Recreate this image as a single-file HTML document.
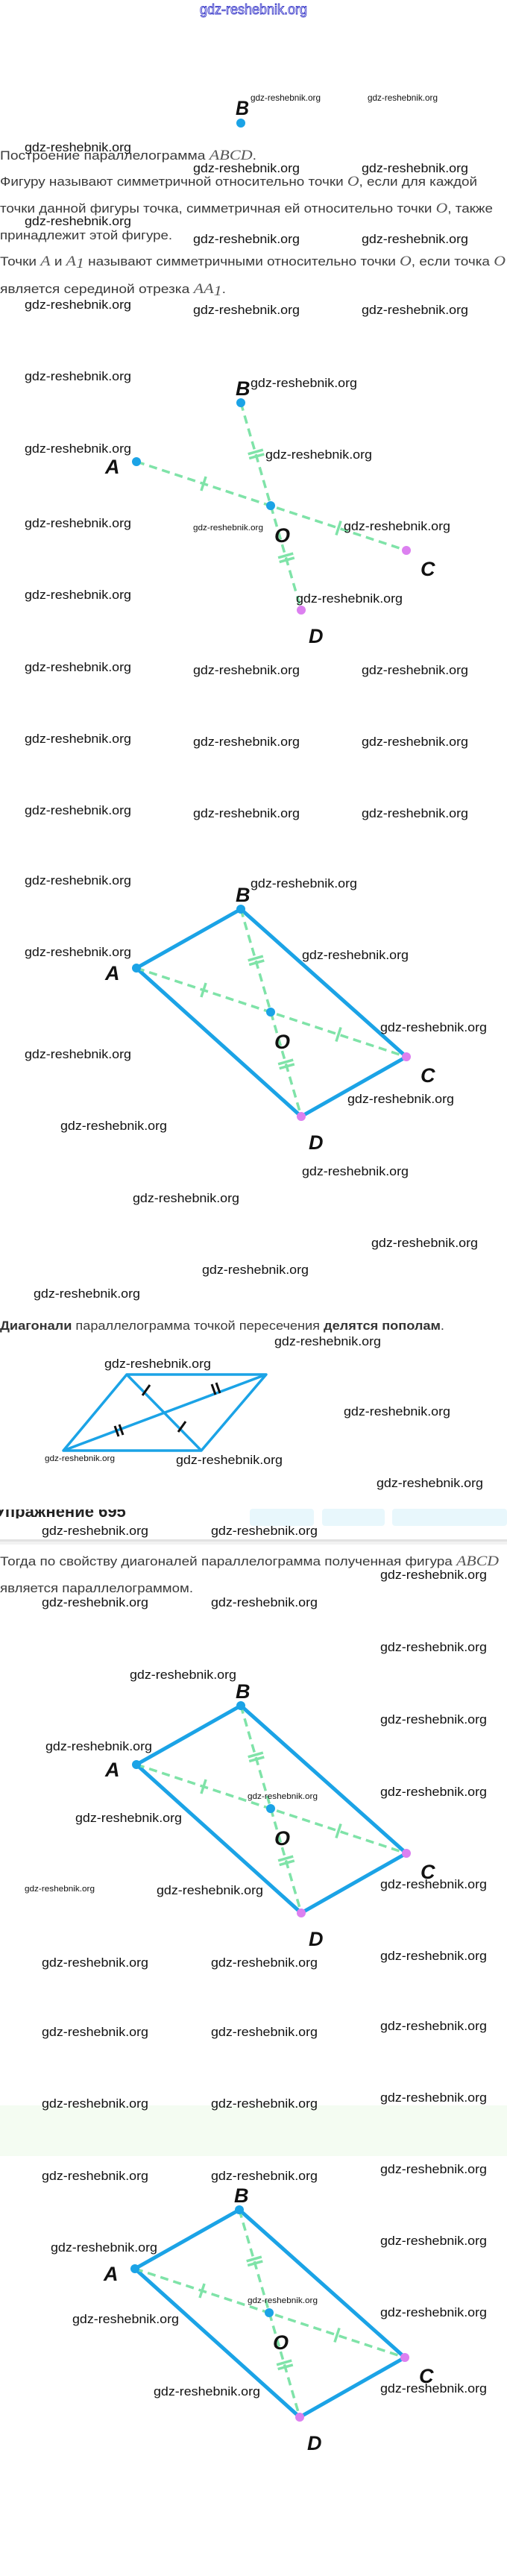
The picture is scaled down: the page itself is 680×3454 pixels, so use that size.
<!DOCTYPE html>
<html><head><meta charset="utf-8">
<style>
html,body{margin:0;padding:0;background:#fff;}
svg{display:block;}
.w{font-family:"Liberation Sans",sans-serif;font-size:17px;fill:#111;}
.ws{font-family:"Liberation Sans",sans-serif;font-size:11px;fill:#111;}
.p{font-family:"Liberation Sans","Noto Sans CJK SC",sans-serif;font-size:16.5px;fill:#3a3a3a;}
.m{font-family:"Liberation Serif",serif;font-style:italic;font-size:19px;fill:#555;}
.L{font-family:"Liberation Sans",sans-serif;font-style:italic;font-weight:bold;font-size:27px;fill:#111;}
</style></head><body>
<svg width="680" height="3454" viewBox="0 0 680 3454" xmlns="http://www.w3.org/2000/svg">
<defs>
<g id="dg">
 <g stroke="#7fe3a8" stroke-width="3.5" stroke-dasharray="11 7" fill="none">
  <line x1="-140" y1="79" x2="222" y2="198"/>
  <line x1="0" y1="0" x2="81" y2="278"/>
 </g>
 <g stroke="#7fe3a8" stroke-width="3.5" fill="none">
  <line x1="-46.9" y1="99" x2="-53.1" y2="118"/>
  <line x1="134.1" y1="158.5" x2="127.9" y2="177.5"/>
  <line x1="29.8" y1="63.1" x2="9.7" y2="68.8"/>
  <line x1="31.3" y1="68.9" x2="11.2" y2="74.6"/>
  <line x1="70.2" y1="202.1" x2="50.1" y2="207.8"/>
  <line x1="71.8" y1="207.9" x2="51.7" y2="213.6"/>
 </g>
</g>
<g id="pts">
 <circle cx="0" cy="0" r="6" fill="#1ba3e6"/>
 <circle cx="-140" cy="79" r="6" fill="#1ba3e6"/>
 <circle cx="40" cy="138" r="6" fill="#1ba3e6"/>
 <circle cx="222" cy="198" r="6" fill="#dc80f0"/>
 <circle cx="81" cy="278" r="6" fill="#dc80f0"/>
</g>
<polygon id="pg" points="0,0 222,198 81,278 -140,79" fill="none" stroke="#1ba3e6" stroke-width="5" stroke-linejoin="round"/>
</defs>

<text x="268" y="19" font-family="Liberation Sans,sans-serif" font-size="19" fill="#fff" stroke="#3434c8" stroke-width="0.9" textLength="144" lengthAdjust="spacingAndGlyphs">gdz-reshebnik.org</text>

<text class="L" x="316" y="154" textLength="18" lengthAdjust="spacingAndGlyphs">B</text>
<circle cx="323" cy="165" r="6" fill="#1ba3e6"/>
<text x="336" y="135" font-family="Liberation Sans,sans-serif" font-size="12" fill="#111" textLength="94" lengthAdjust="spacingAndGlyphs">gdz-reshebnik.org</text>
<text x="493" y="135" font-family="Liberation Sans,sans-serif" font-size="12" fill="#111" textLength="94" lengthAdjust="spacingAndGlyphs">gdz-reshebnik.org</text>

<text class="p" x="0" y="214" textLength="344" lengthAdjust="spacingAndGlyphs">Построение параллелограмма <tspan class="m">ABCD</tspan>.</text>
<text class="p" x="0" y="249" textLength="640" lengthAdjust="spacingAndGlyphs">Фигуру называют симметричной относительно точки <tspan class="m">O</tspan>, если для каждой</text>
<text class="p" x="0" y="285" textLength="661" lengthAdjust="spacingAndGlyphs">точки данной фигуры точка, симметричная ей относительно точки <tspan class="m">O</tspan>, также</text>
<text class="p" x="0" y="321" textLength="231" lengthAdjust="spacingAndGlyphs">принадлежит этой фигуре.</text>
<text class="p" x="0" y="356" textLength="678" lengthAdjust="spacingAndGlyphs">Точки <tspan class="m">A</tspan> и <tspan class="m">A</tspan><tspan font-size="12" class="m" dy="3">1</tspan><tspan dy="-3"> называют симметричными относительно точки </tspan><tspan class="m">O</tspan>, если точка <tspan class="m">O</tspan></text>
<text class="p" x="0" y="393" textLength="303" lengthAdjust="spacingAndGlyphs">является серединой отрезка <tspan class="m">AA</tspan><tspan font-size="12" class="m" dy="3">1</tspan><tspan dy="-3">.</tspan></text>

<g transform="translate(323,540)"><use href="#dg"/><use href="#pts"/></g>
<g class="L"><text x="316" y="530">B</text><text x="141" y="635">A</text><text x="368" y="727">O</text><text x="564" y="772">C</text><text x="414" y="862">D</text></g>

<g transform="translate(323,1219)"><use href="#pg"/><use href="#dg"/><use href="#pts"/></g>
<g class="L"><text x="316" y="1209">B</text><text x="141" y="1314">A</text><text x="368" y="1406">O</text><text x="564" y="1451">C</text><text x="414" y="1541">D</text></g>

<text class="p" x="0" y="1783" textLength="596" lengthAdjust="spacingAndGlyphs"><tspan font-weight="bold" fill="#333">Диагонали</tspan> параллелограмма точкой пересечения <tspan font-weight="bold" fill="#333">делятся пополам</tspan>.</text>

<g fill="none" stroke="#1ba3e6" stroke-width="3.5" stroke-linejoin="round">
 <polygon points="170,1843 357,1843 270,1945 85,1945"/>
 <line x1="170" y1="1843" x2="270" y2="1945"/>
 <line x1="85" y1="1945" x2="357" y2="1843"/>
</g>
<g stroke="#111" stroke-width="3">
 <line x1="191" y1="1871" x2="201" y2="1857"/>
 <line x1="239" y1="1920" x2="249" y2="1906"/>
 <line x1="284" y1="1856" x2="289" y2="1870"/>
 <line x1="290" y1="1854" x2="295" y2="1868"/>
 <line x1="154" y1="1912" x2="159" y2="1926"/>
 <line x1="160" y1="1910" x2="165" y2="1924"/>
</g>

<rect x="0" y="2000" width="680" height="65" fill="#fff"/>
<svg x="0" y="2024" width="680" height="12" overflow="hidden">
 <text x="-6" y="10" font-family="Liberation Sans,sans-serif" font-weight="bold" font-size="22" fill="#222">Упражнение 695</text>
</svg>
<rect x="335" y="2023" width="86" height="23" rx="4" fill="#e8f7fc"/>
<rect x="432" y="2023" width="84" height="23" rx="4" fill="#e8f7fc"/>
<rect x="526" y="2023" width="154" height="23" rx="4" fill="#e8f7fc"/>
<rect x="0" y="2064" width="680" height="3" fill="#e2e2e2"/>
<rect x="0" y="2067" width="680" height="4" fill="#f2f2f2"/>

<text class="p" x="0" y="2099" textLength="669" lengthAdjust="spacingAndGlyphs">Тогда по свойству диагоналей параллелограмма полученная фигура <tspan class="m">ABCD</tspan></text>
<text class="p" x="0" y="2135" textLength="259" lengthAdjust="spacingAndGlyphs">является параллелограммом.</text>

<g transform="translate(323,2287)"><use href="#pg"/><use href="#dg"/><use href="#pts"/></g>
<g class="L"><text x="316" y="2277">B</text><text x="141" y="2382">A</text><text x="368" y="2474">O</text><text x="564" y="2519">C</text><text x="414" y="2609">D</text></g>

<rect x="0" y="2823" width="680" height="68" fill="#f4fcf2"/>

<g transform="translate(321,2963)"><use href="#pg"/><use href="#dg"/><use href="#pts"/></g>
<g class="L"><text x="314" y="2953">B</text><text x="139" y="3058">A</text><text x="366" y="3150">O</text><text x="562" y="3195">C</text><text x="412" y="3285">D</text></g>

<g class="w">
<text x="33" y="203" textLength="143" lengthAdjust="spacingAndGlyphs">gdz-reshebnik.org</text>
<text x="259" y="231" textLength="143" lengthAdjust="spacingAndGlyphs">gdz-reshebnik.org</text>
<text x="485" y="231" textLength="143" lengthAdjust="spacingAndGlyphs">gdz-reshebnik.org</text>
<text x="33" y="302" textLength="143" lengthAdjust="spacingAndGlyphs">gdz-reshebnik.org</text>
<text x="259" y="326" textLength="143" lengthAdjust="spacingAndGlyphs">gdz-reshebnik.org</text>
<text x="485" y="326" textLength="143" lengthAdjust="spacingAndGlyphs">gdz-reshebnik.org</text>
<text x="33" y="414" textLength="143" lengthAdjust="spacingAndGlyphs">gdz-reshebnik.org</text>
<text x="259" y="421" textLength="143" lengthAdjust="spacingAndGlyphs">gdz-reshebnik.org</text>
<text x="485" y="421" textLength="143" lengthAdjust="spacingAndGlyphs">gdz-reshebnik.org</text>
<text x="33" y="510" textLength="143" lengthAdjust="spacingAndGlyphs">gdz-reshebnik.org</text>
<text x="336" y="519" textLength="143" lengthAdjust="spacingAndGlyphs">gdz-reshebnik.org</text>
<text x="33" y="607" textLength="143" lengthAdjust="spacingAndGlyphs">gdz-reshebnik.org</text>
<text x="356" y="615" textLength="143" lengthAdjust="spacingAndGlyphs">gdz-reshebnik.org</text>
<text x="33" y="707" textLength="143" lengthAdjust="spacingAndGlyphs">gdz-reshebnik.org</text>
<text x="461" y="711" textLength="143" lengthAdjust="spacingAndGlyphs">gdz-reshebnik.org</text>
<text x="33" y="803" textLength="143" lengthAdjust="spacingAndGlyphs">gdz-reshebnik.org</text>
<text x="397" y="808" textLength="143" lengthAdjust="spacingAndGlyphs">gdz-reshebnik.org</text>
<text x="33" y="900" textLength="143" lengthAdjust="spacingAndGlyphs">gdz-reshebnik.org</text>
<text x="259" y="904" textLength="143" lengthAdjust="spacingAndGlyphs">gdz-reshebnik.org</text>
<text x="485" y="904" textLength="143" lengthAdjust="spacingAndGlyphs">gdz-reshebnik.org</text>
<text x="33" y="996" textLength="143" lengthAdjust="spacingAndGlyphs">gdz-reshebnik.org</text>
<text x="259" y="1000" textLength="143" lengthAdjust="spacingAndGlyphs">gdz-reshebnik.org</text>
<text x="485" y="1000" textLength="143" lengthAdjust="spacingAndGlyphs">gdz-reshebnik.org</text>
<text x="33" y="1092" textLength="143" lengthAdjust="spacingAndGlyphs">gdz-reshebnik.org</text>
<text x="259" y="1096" textLength="143" lengthAdjust="spacingAndGlyphs">gdz-reshebnik.org</text>
<text x="485" y="1096" textLength="143" lengthAdjust="spacingAndGlyphs">gdz-reshebnik.org</text>
<text x="33" y="1186" textLength="143" lengthAdjust="spacingAndGlyphs">gdz-reshebnik.org</text>
<text x="336" y="1190" textLength="143" lengthAdjust="spacingAndGlyphs">gdz-reshebnik.org</text>
<text x="33" y="1282" textLength="143" lengthAdjust="spacingAndGlyphs">gdz-reshebnik.org</text>
<text x="405" y="1286" textLength="143" lengthAdjust="spacingAndGlyphs">gdz-reshebnik.org</text>
<text x="33" y="1419" textLength="143" lengthAdjust="spacingAndGlyphs">gdz-reshebnik.org</text>
<text x="510" y="1383" textLength="143" lengthAdjust="spacingAndGlyphs">gdz-reshebnik.org</text>
<text x="466" y="1479" textLength="143" lengthAdjust="spacingAndGlyphs">gdz-reshebnik.org</text>
<text x="81" y="1515" textLength="143" lengthAdjust="spacingAndGlyphs">gdz-reshebnik.org</text>
<text x="405" y="1576" textLength="143" lengthAdjust="spacingAndGlyphs">gdz-reshebnik.org</text>
<text x="178" y="1612" textLength="143" lengthAdjust="spacingAndGlyphs">gdz-reshebnik.org</text>
<text x="498" y="1672" textLength="143" lengthAdjust="spacingAndGlyphs">gdz-reshebnik.org</text>
<text x="271" y="1708" textLength="143" lengthAdjust="spacingAndGlyphs">gdz-reshebnik.org</text>
<text x="45" y="1740" textLength="143" lengthAdjust="spacingAndGlyphs">gdz-reshebnik.org</text>
<text x="368" y="1804" textLength="143" lengthAdjust="spacingAndGlyphs">gdz-reshebnik.org</text>
<text x="140" y="1834" textLength="143" lengthAdjust="spacingAndGlyphs">gdz-reshebnik.org</text>
<text x="461" y="1898" textLength="143" lengthAdjust="spacingAndGlyphs">gdz-reshebnik.org</text>
<text x="236" y="1963" textLength="143" lengthAdjust="spacingAndGlyphs">gdz-reshebnik.org</text>
<text x="505" y="1994" textLength="143" lengthAdjust="spacingAndGlyphs">gdz-reshebnik.org</text>
<text x="56" y="2058" textLength="143" lengthAdjust="spacingAndGlyphs">gdz-reshebnik.org</text>
<text x="283" y="2058" textLength="143" lengthAdjust="spacingAndGlyphs">gdz-reshebnik.org</text>
<text x="510" y="2117" textLength="143" lengthAdjust="spacingAndGlyphs">gdz-reshebnik.org</text>
<text x="56" y="2154" textLength="143" lengthAdjust="spacingAndGlyphs">gdz-reshebnik.org</text>
<text x="283" y="2154" textLength="143" lengthAdjust="spacingAndGlyphs">gdz-reshebnik.org</text>
<text x="510" y="2214" textLength="143" lengthAdjust="spacingAndGlyphs">gdz-reshebnik.org</text>
<text x="174" y="2251" textLength="143" lengthAdjust="spacingAndGlyphs">gdz-reshebnik.org</text>
<text x="510" y="2311" textLength="143" lengthAdjust="spacingAndGlyphs">gdz-reshebnik.org</text>
<text x="61" y="2347" textLength="143" lengthAdjust="spacingAndGlyphs">gdz-reshebnik.org</text>
<text x="510" y="2408" textLength="143" lengthAdjust="spacingAndGlyphs">gdz-reshebnik.org</text>
<text x="101" y="2443" textLength="143" lengthAdjust="spacingAndGlyphs">gdz-reshebnik.org</text>
<text x="210" y="2540" textLength="143" lengthAdjust="spacingAndGlyphs">gdz-reshebnik.org</text>
<text x="510" y="2532" textLength="143" lengthAdjust="spacingAndGlyphs">gdz-reshebnik.org</text>
<text x="56" y="2637" textLength="143" lengthAdjust="spacingAndGlyphs">gdz-reshebnik.org</text>
<text x="283" y="2637" textLength="143" lengthAdjust="spacingAndGlyphs">gdz-reshebnik.org</text>
<text x="510" y="2628" textLength="143" lengthAdjust="spacingAndGlyphs">gdz-reshebnik.org</text>
<text x="56" y="2730" textLength="143" lengthAdjust="spacingAndGlyphs">gdz-reshebnik.org</text>
<text x="283" y="2730" textLength="143" lengthAdjust="spacingAndGlyphs">gdz-reshebnik.org</text>
<text x="510" y="2722" textLength="143" lengthAdjust="spacingAndGlyphs">gdz-reshebnik.org</text>
<text x="56" y="2826" textLength="143" lengthAdjust="spacingAndGlyphs">gdz-reshebnik.org</text>
<text x="283" y="2826" textLength="143" lengthAdjust="spacingAndGlyphs">gdz-reshebnik.org</text>
<text x="510" y="2818" textLength="143" lengthAdjust="spacingAndGlyphs">gdz-reshebnik.org</text>
<text x="56" y="2923" textLength="143" lengthAdjust="spacingAndGlyphs">gdz-reshebnik.org</text>
<text x="283" y="2923" textLength="143" lengthAdjust="spacingAndGlyphs">gdz-reshebnik.org</text>
<text x="510" y="2914" textLength="143" lengthAdjust="spacingAndGlyphs">gdz-reshebnik.org</text>
<text x="68" y="3019" textLength="143" lengthAdjust="spacingAndGlyphs">gdz-reshebnik.org</text>
<text x="510" y="3010" textLength="143" lengthAdjust="spacingAndGlyphs">gdz-reshebnik.org</text>
<text x="97" y="3115" textLength="143" lengthAdjust="spacingAndGlyphs">gdz-reshebnik.org</text>
<text x="510" y="3106" textLength="143" lengthAdjust="spacingAndGlyphs">gdz-reshebnik.org</text>
<text x="206" y="3212" textLength="143" lengthAdjust="spacingAndGlyphs">gdz-reshebnik.org</text>
<text x="510" y="3208" textLength="143" lengthAdjust="spacingAndGlyphs">gdz-reshebnik.org</text>
</g>
<g class="ws">
<text x="259" y="711" textLength="94" lengthAdjust="spacingAndGlyphs">gdz-reshebnik.org</text>
<text x="60" y="1959" textLength="94" lengthAdjust="spacingAndGlyphs">gdz-reshebnik.org</text>
<text x="332" y="2412" textLength="94" lengthAdjust="spacingAndGlyphs">gdz-reshebnik.org</text>
<text x="33" y="2536" textLength="94" lengthAdjust="spacingAndGlyphs">gdz-reshebnik.org</text>
<text x="332" y="3088" textLength="94" lengthAdjust="spacingAndGlyphs">gdz-reshebnik.org</text>
</g>
</svg>
</body></html>
